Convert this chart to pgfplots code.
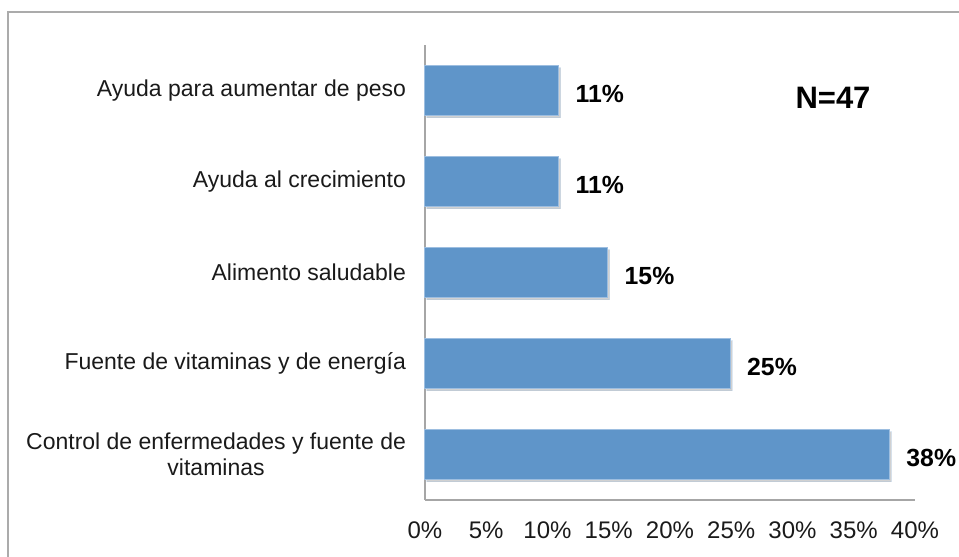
\documentclass[border=0pt]{standalone}
\usepackage{pgfplots}
\pgfplotsset{compat=1.18}
\usepackage{pgfplotstable}
\usepackage{fontspec}
\setmainfont{Liberation Sans}
\usetikzlibrary{shadows}
\definecolor{barblue}{HTML}{5F95C9}
\definecolor{baredge}{HTML}{9DBEE0}
\definecolor{framegray}{HTML}{ABABAB}
\definecolor{axisgray}{HTML}{A6A6A6}
\definecolor{txt}{HTML}{1A1A1A}

\pgfplotstableread{
y x lab
0 37.9 38
1 24.9 25
2 14.9 15
3 10.9 11
4 10.9 11
}\datatable

\begin{document}
\begin{tikzpicture}
\useasboundingbox (0,0) rectangle (479.5pt,278.5pt);
\draw[framegray, line width=1pt] (4pt,0) -- (4pt,272.5pt) -- (479.5pt,272.5pt);
\begin{axis}[
  at={(212.5pt,28.5pt)}, anchor=south west,
  scale only axis, width=245pt, height=227.5pt,
  xmin=0, xmax=40, ymin=-0.5, ymax=4.5,
  axis lines*=left,
  axis line style={axisgray, line width=0.8pt},
  major tick length=0pt,
  xtick={0,5,...,40},
  xticklabels={0\%,5\%,10\%,15\%,20\%,25\%,30\%,35\%,40\%},
  xticklabel style={font=\fontsize{12}{14}\selectfont, text=txt, text height=9pt, text depth=1pt, yshift=-6.5pt},
  ytick={0,1,2,3,4},
  yticklabels={{Control de enfermedades y fuente de\\vitaminas},
               {Fuente de vitaminas y de energía},
               {Alimento saludable},
               {Ayuda al crecimiento},
               {Ayuda para aumentar de peso}},
  yticklabel style={font=\fontsize{11.5}{13}\selectfont, text=txt, align=center, xshift=-6pt},
  xbar, bar width=25pt, bar shift=0pt,
  point meta=explicit,
  nodes near coords={\pgfmathprintnumber[assume math mode=true]{\pgfplotspointmeta}\%},
  nodes near coords style={font=\bfseries\fontsize{12.4}{14}\selectfont, text=black, anchor=west, xshift=5pt, yshift=-1.5pt},
  clip=false,
]
\addplot[fill=barblue, draw=baredge, line width=0.5pt,
  drop shadow={shadow xshift=1pt, shadow yshift=-1.2pt, opacity=0.3, fill=black!60}]
  table[x=x, y=y, meta=lab] {\datatable};
\end{axis}
\node[font=\bfseries\fontsize{15.5}{18}\selectfont] at (416.5pt,229.5pt) {N=47};
\end{tikzpicture}
\end{document}
